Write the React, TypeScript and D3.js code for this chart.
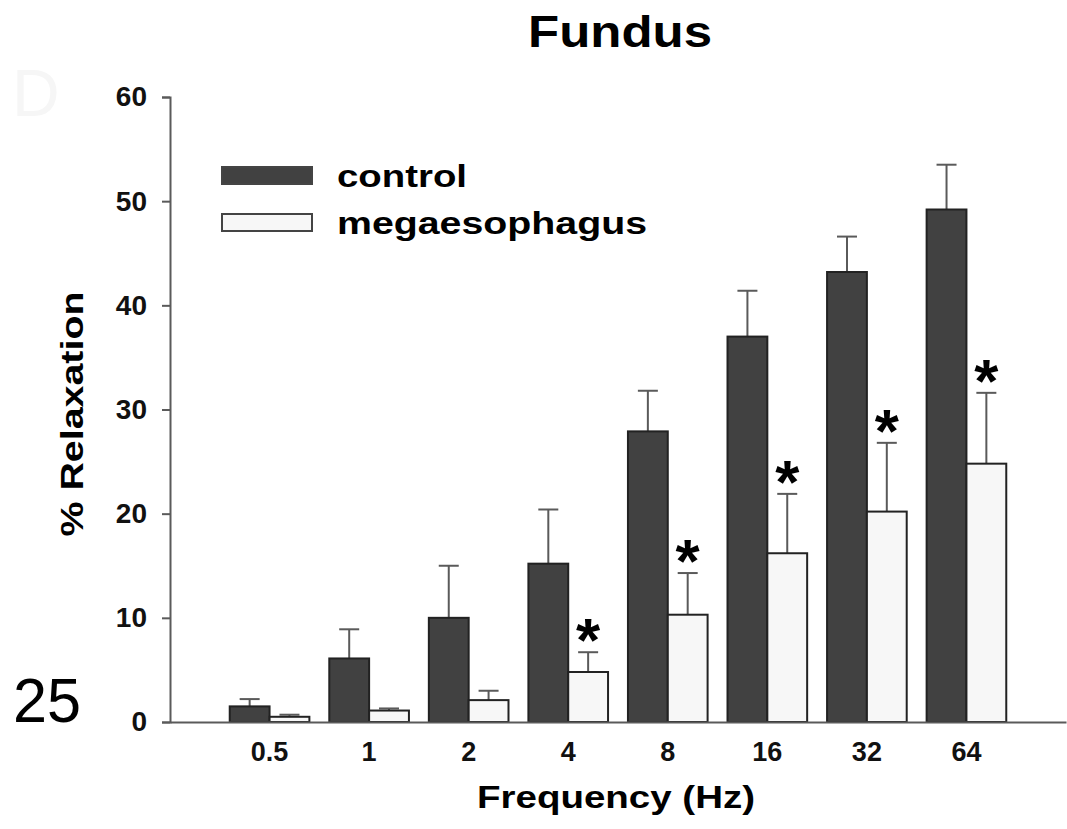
import * as d3 from "d3";
import { useEffect, useRef } from "react";

const W = 1067;
const H = 829;
const FONT = "'Liberation Sans', Arial, sans-serif";

const frequencies = ["0.5", "1", "2", "4", "8", "16", "32", "64"];
const series = ["control", "megaesophagus"];
const controlMean = [1.5, 6.1, 10.0, 15.2, 27.9, 37.0, 43.2, 49.2];
const controlErr = [2.2, 8.9, 15.0, 20.4, 31.8, 41.4, 46.6, 53.5];
const megaMean = [0.5, 1.1, 2.1, 4.8, 10.3, 16.2, 20.2, 24.8];
const megaErr = [0.7, 1.3, 3.0, 6.7, 14.3, 21.9, 26.8, 31.6];
const significant = [false, false, false, true, true, true, true, true];
const yTicks = [0, 10, 20, 30, 40, 50, 60];

const fills = { control: "#414141", megaesophagus: "#f7f7f7" };
const axisColor = "#5a5a5a";

export default function App() {
  const svgRef = useRef(null);

  useEffect(() => {
    const svg = d3.select(svgRef.current);
    svg.selectAll("*").remove();

    const x0 = d3
      .scaleBand()
      .domain(frequencies)
      .range([170, 1066])
      .paddingInner(0.2)
      .paddingOuter(0.6);
    const x1 = d3.scaleBand().domain(series).range([0, x0.bandwidth()]);
    const y = d3.scaleLinear().domain([0, 60]).range([722, 97]);

    // faint letter left over from the scan
    svg
      .append("text")
      .attr("x", 12)
      .attr("y", 116)
      .attr("font-family", FONT)
      .attr("font-size", 66)
      .attr("fill", "#f6f6f6")
      .text("D");

    svg
      .append("text")
      .attr("x", 620)
      .attr("y", 47)
      .attr("text-anchor", "middle")
      .attr("font-family", FONT)
      .attr("font-weight", "bold")
      .attr("font-size", 44)
      .attr("textLength", 184)
      .attr("lengthAdjust", "spacingAndGlyphs")
      .text("Fundus");

    const rows = frequencies.map((f, i) => ({
      f,
      i,
      bars: [
        { key: "control", mean: controlMean[i], err: controlErr[i], star: false },
        { key: "megaesophagus", mean: megaMean[i], err: megaErr[i], star: significant[i] },
      ],
    }));

    const groups = svg
      .append("g")
      .selectAll("g")
      .data(rows)
      .join("g")
      .attr("transform", (d) => `translate(${x0(d.f)},0)`);

    const bar = groups
      .selectAll("g")
      .data((d) => d.bars)
      .join("g");

    // error bars first so the bar covers the lower half
    bar
      .append("line")
      .attr("x1", (d) => x1(d.key) + x1.bandwidth() / 2)
      .attr("x2", (d) => x1(d.key) + x1.bandwidth() / 2)
      .attr("y1", (d) => y(d.mean))
      .attr("y2", (d) => y(d.err))
      .attr("stroke", axisColor)
      .attr("stroke-width", 2);
    bar
      .append("line")
      .attr("x1", (d) => x1(d.key) + x1.bandwidth() / 2 - 10)
      .attr("x2", (d) => x1(d.key) + x1.bandwidth() / 2 + 10)
      .attr("y1", (d) => y(d.err))
      .attr("y2", (d) => y(d.err))
      .attr("stroke", axisColor)
      .attr("stroke-width", 2);

    bar
      .append("rect")
      .attr("x", (d) => x1(d.key))
      .attr("y", (d) => y(d.mean))
      .attr("width", x1.bandwidth())
      .attr("height", (d) => y(0) - y(d.mean))
      .attr("fill", (d) => fills[d.key])
      .attr("stroke", "#222")
      .attr("stroke-width", 2);

    bar
      .filter((d) => d.star)
      .append("text")
      .attr("x", (d) => x1(d.key) + x1.bandwidth() / 2)
      .attr("y", (d) => y(d.err) + 9)
      .attr("text-anchor", "middle")
      .attr("font-family", FONT)
      .attr("font-weight", "bold")
      .attr("font-size", 62)
      .text("*");

    // y axis
    const yAxis = svg.append("g").attr("transform", "translate(170,0)");
    yAxis
      .call(d3.axisLeft(y).tickValues(yTicks).tickSize(8).tickPadding(15))
      .call((g) => g.select(".domain").attr("stroke", axisColor).attr("stroke-width", 2))
      .call((g) => g.selectAll(".tick line").attr("stroke", axisColor).attr("stroke-width", 2))
      .call((g) =>
        g
          .selectAll(".tick text")
          .attr("font-family", FONT)
          .attr("font-weight", "bold")
          .attr("font-size", 28)
          .attr("fill", "#111")
      );

    // x axis: plain baseline with labels, no ticks
    const xAxis = svg.append("g").attr("transform", `translate(0,${y(0)})`);
    xAxis
      .call(d3.axisBottom(x0).tickSize(0).tickPadding(20).tickSizeOuter(0))
      .call((g) => g.select(".domain").attr("stroke", axisColor).attr("stroke-width", 2))
      .call((g) =>
        g
          .selectAll(".tick text")
          .attr("font-family", FONT)
          .attr("font-weight", "bold")
          .attr("font-size", 27)
          .attr("fill", "#111")
      );

    svg
      .append("text")
      .attr("x", 616)
      .attr("y", 808)
      .attr("text-anchor", "middle")
      .attr("font-family", FONT)
      .attr("font-weight", "bold")
      .attr("font-size", 32)
      .attr("textLength", 278)
      .attr("lengthAdjust", "spacingAndGlyphs")
      .text("Frequency (Hz)");

    svg
      .append("text")
      .attr("transform", "translate(83,414) rotate(-90)")
      .attr("text-anchor", "middle")
      .attr("font-family", FONT)
      .attr("font-weight", "bold")
      .attr("font-size", 31)
      .attr("textLength", 245)
      .attr("lengthAdjust", "spacingAndGlyphs")
      .text("% Relaxation");

    // legend
    const legendWidths = { control: 130, megaesophagus: 310 };
    const legend = svg
      .append("g")
      .selectAll("g")
      .data(series)
      .join("g")
      .attr("transform", (d, i) => `translate(222,${167 + i * 47})`);
    legend
      .append("rect")
      .attr("width", 90)
      .attr("height", 17)
      .attr("fill", (d) => fills[d])
      .attr("stroke", "#444")
      .attr("stroke-width", 2);
    legend
      .append("text")
      .attr("x", 115)
      .attr("y", 20)
      .attr("font-family", FONT)
      .attr("font-weight", "bold")
      .attr("font-size", 31)
      .attr("textLength", (d) => legendWidths[d])
      .attr("lengthAdjust", "spacingAndGlyphs")
      .text((d) => d);

    svg
      .append("text")
      .attr("x", 13)
      .attr("y", 722)
      .attr("font-family", FONT)
      .attr("font-size", 63)
      .attr("textLength", 68)
      .attr("lengthAdjust", "spacingAndGlyphs")
      .text("25");
  }, []);

  return (
    <svg
      ref={svgRef}
      width={W}
      height={H}
      style={{ position: "absolute", left: 0, top: 0, background: "#fff" }}
    />
  );
}
